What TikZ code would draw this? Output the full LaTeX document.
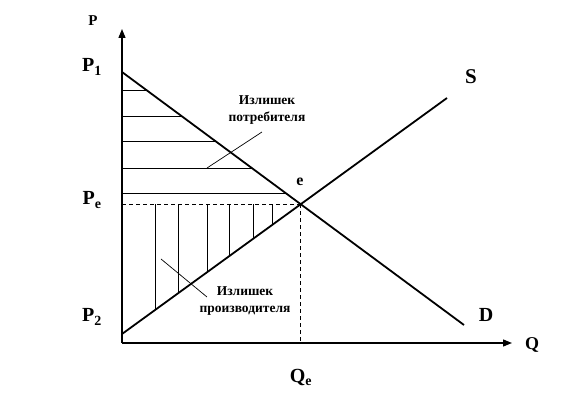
\documentclass[tikz,border=0pt]{standalone}
\usepackage{fontspec}
\setmainfont{Liberation Serif}
\usetikzlibrary{arrows.meta}

\tikzset{
  axis/.style={line width=1.3pt,-{Triangle[length=9pt,width=7pt]}},
  curve/.style={line width=1.8pt},
  hatch/.style={line width=0.9pt},
  guide/.style={line width=0.9pt,dash pattern=on 4pt off 3pt},
  leader/.style={line width=0.7pt},
  lbl/.style={font=\bfseries\fontsize{20}{20}\selectfont,inner sep=0pt},
  note/.style={font=\bfseries\fontsize{13.5}{17}\selectfont,align=center,inner sep=0pt}
}

\begin{document}
\begin{tikzpicture}[x=1pt,y=1pt]
    \useasboundingbox (-122,-62) rectangle (452,343);

    % axes
    \coordinate (O) at (0,0);
    \coordinate (Ptop) at (0,314);
    \coordinate (Qend) at (390,0);
    \draw[axis] (O)--(Ptop);
    \draw[axis] (O)--(Qend);

    % demand and supply
    \coordinate (P1) at (0,271);
    \coordinate (Dend) at (342,18);
    \coordinate (P2) at (0,9);
    \coordinate (Send) at (325,245);
    \coordinate (e) at (intersection of P1--Dend and P2--Send);

    % surplus hatching
    \foreach \y in {253,227,202,175,150}
      \draw[hatch] (0,\y)--({(271-\y)/253*342},\y);
    \foreach \x in {33,56,85,107,131,150}
      \draw[hatch] (\x,{9+\x/325*236})--(\x,139);

    \draw[curve] (P1)--(Dend);
    \draw[curve] (P2)--(Send);

    % equilibrium
    \draw[guide] (e)--(e -| O);
    \draw[guide] (e)--(e |- O);

    % leaders
    \draw[leader] (85,175)--(140,211);
    \draw[leader] (39,84)--(85,46);

    \node[note] (cs) at (145,233) {Излишек\\потребителя};
    \node[note] (ps) at (123,42) {Излишек\\производителя};

    \node[lbl,font=\bfseries\fontsize{15}{15}\selectfont] (lP) at (-29,322) {P};
    \node[lbl] (lP1) at (-30,276) {P\textsubscript{1}};
    \node[lbl] (lPe) at (-30,143) {P\textsubscript{e}};
    \node[lbl] (lP2) at (-30,26) {P\textsubscript{2}};
    \node[lbl] (lQe) at (179,-34) {Q\textsubscript{e}};
    \node[lbl,font=\bfseries\fontsize{21}{21}\selectfont] (lS) at (349,266) {S};
    \node[lbl] (lD) at (364,28) {D};
    \node[lbl,font=\bfseries\fontsize{18}{18}\selectfont] (lQ) at (410,-2) {Q};
    \node[lbl,font=\bfseries\fontsize{16}{16}\selectfont] (le) at (178,161) {e};
\end{tikzpicture}
\end{document}
